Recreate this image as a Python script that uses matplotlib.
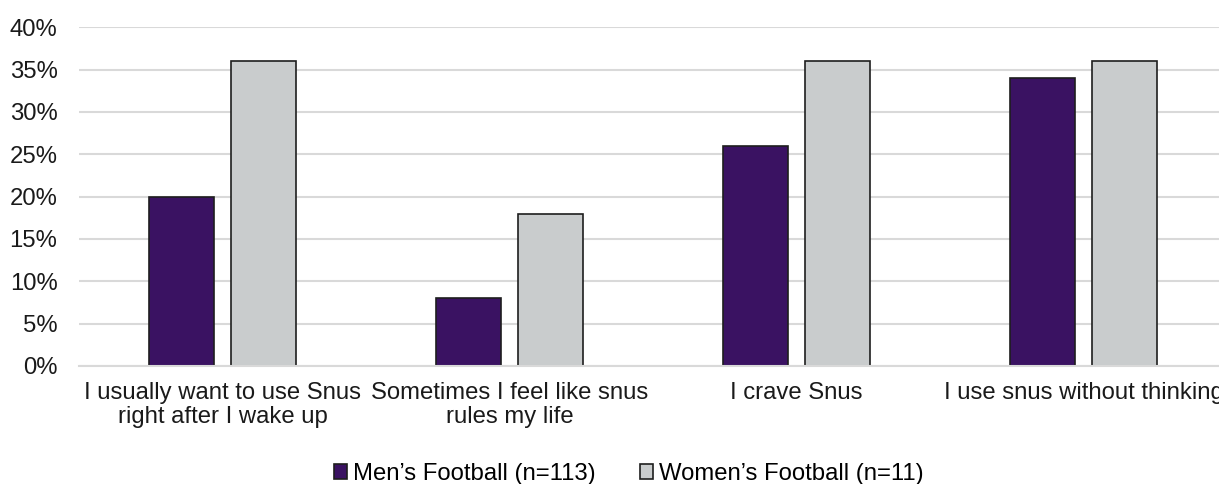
import matplotlib
matplotlib.use("Agg")
import matplotlib.pyplot as plt
import numpy as np
from matplotlib.ticker import FuncFormatter

categories = [
    "I usually want to use Snus\nright after I wake up",
    "Sometimes I feel like snus\nrules my life",
    "I crave Snus",
    "I use snus without thinking",
]
series_names = ["Men\u2019s Football (n=113)", "Women\u2019s Football (n=11)"]
men = [20, 8, 26, 34]
women = [36, 18, 36, 36]
y_ticks = [0, 5, 10, 15, 20, 25, 30, 35, 40]

plt.rcParams["font.family"] = ["Liberation Sans", "DejaVu Sans"]
FS = 17.2

fig = plt.figure(figsize=(12.19, 4.84), dpi=100)
W, H = 1219, 484
left, right = 79, 1227
top, bottom = 27.3, 366.0
ax = fig.add_axes([left / W, 1 - bottom / H, (right - left) / W, (bottom - top) / H])

x = np.arange(len(categories))
bw = 0.226
off = 0.144
ax.bar(x - off, men, width=bw, color="#3A1262", edgecolor="#1E1E1E", linewidth=1.2,
       label=series_names[0], zorder=3)
ax.bar(x + off, women, width=bw, color="#C9CCCD", edgecolor="#1E1E1E", linewidth=1.2,
       label=series_names[1], zorder=3)

ax.set_xlim(-0.5, len(categories) - 0.5)
ax.set_ylim(0, 40)
ax.set_yticks(y_ticks)
ax.yaxis.set_major_formatter(FuncFormatter(lambda v, p: f"{v:.0f}%"))
ax.set_xticks(x)
ax.set_xticklabels(categories, fontsize=FS, linespacing=1.1)
ax.tick_params(axis="y", labelsize=FS, length=0, pad=15.5, colors="#1A1A1A")
ax.tick_params(axis="x", length=0, pad=11.5, colors="#1A1A1A")

ax.grid(axis="y", color="#D9D9D9", linewidth=1.5, zorder=0)
for s in ["top", "right", "left"]:
    ax.spines[s].set_visible(False)
ax.spines["bottom"].set_color("#D9D9D9")
ax.spines["bottom"].set_linewidth(1.5)
ax.spines["bottom"].set_zorder(4)

leg = fig.legend(loc="center", bbox_to_anchor=(629 / W, 1 - 474 / H), ncol=2,
                 frameon=False, fontsize=FS, handlelength=0.54, handleheight=0.54,
                 handletextpad=0.25, columnspacing=1.85, borderpad=0.2)

fig.savefig("out.png", dpi=100)
